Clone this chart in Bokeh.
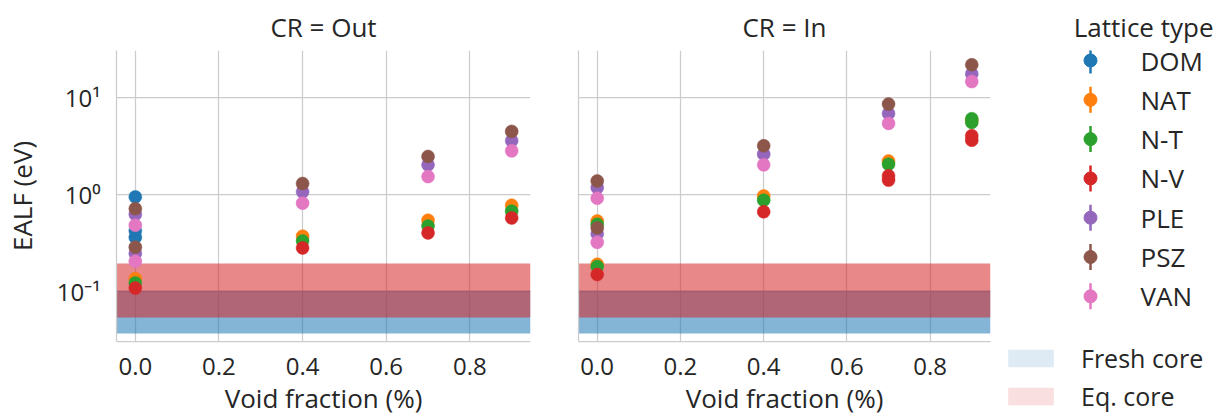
from bokeh.plotting import figure
from bokeh.layouts import row
from bokeh.models import (Range1d, FixedTicker, CustomJSTickFormatter, NumeralTickFormatter,
                          Legend, LegendItem)
from bokeh.core.properties import value
from bokeh.embed import file_html
from bokeh.resources import INLINE

FONT = "Open Sans"
TXT = "#262626"
GRID = "#cccccc"

lattices = ["DOM", "NAT", "N-T", "N-V", "PLE", "PSZ", "VAN"]
colors = ["#1f77b4", "#ff7f0e", "#2ca02c", "#d62728", "#9467bd", "#8c564b", "#e377c2"]

panel_titles = ["CR = Out", "CR = In"]
x_ticks = [0.0, 0.2, 0.4, 0.6, 0.8]
y_ticks = [0.1, 1.0, 10.0]

# CR = Out (long format)
out_lattice = ["DOM", "DOM", "DOM",
               "NAT", "NAT", "NAT", "NAT",
               "N-T", "N-T", "N-T", "N-T",
               "N-V", "N-V", "N-V", "N-V",
               "PLE", "PLE", "PLE", "PLE", "PLE",
               "PSZ", "PSZ", "PSZ", "PSZ", "PSZ",
               "VAN", "VAN", "VAN", "VAN", "VAN"]
out_void = [0.0, 0.0, 0.0,
            0.0, 0.4, 0.7, 0.9,
            0.0, 0.4, 0.7, 0.9,
            0.0, 0.4, 0.7, 0.9,
            0.0, 0.0, 0.4, 0.7, 0.9,
            0.0, 0.0, 0.4, 0.7, 0.9,
            0.0, 0.0, 0.4, 0.7, 0.9]
out_ealf = [0.94, 0.42, 0.36,
            0.135, 0.37, 0.54, 0.77,
            0.122, 0.33, 0.47, 0.67,
            0.108, 0.28, 0.40, 0.57,
            0.62, 0.245, 1.06, 2.01, 3.56,
            0.71, 0.285, 1.29, 2.45, 4.44,
            0.48, 0.204, 0.81, 1.52, 2.80]

# CR = In (long format)
in_lattice = ["NAT", "NAT", "NAT", "NAT", "NAT",
              "N-T", "N-T", "N-T", "N-T", "N-T", "N-T",
              "N-V", "N-V", "N-V", "N-V", "N-V", "N-V",
              "PLE", "PLE", "PLE", "PLE", "PLE",
              "PSZ", "PSZ", "PSZ", "PSZ", "PSZ",
              "VAN", "VAN", "VAN", "VAN", "VAN"]
in_void = [0.0, 0.0, 0.4, 0.7, 0.9,
           0.0, 0.0, 0.4, 0.7, 0.9, 0.9,
           0.0, 0.4, 0.7, 0.7, 0.9, 0.9,
           0.0, 0.0, 0.4, 0.7, 0.9,
           0.0, 0.0, 0.4, 0.7, 0.9,
           0.0, 0.0, 0.4, 0.7, 0.9]
in_ealf = [0.53, 0.19, 0.96, 2.2, 5.8,
           0.49, 0.18, 0.87, 2.04, 6.0, 5.5,
           0.149, 0.66, 1.55, 1.40, 4.0, 3.6,
           1.17, 0.39, 2.59, 6.8, 17.4,
           1.37, 0.45, 3.16, 8.5, 21.6,
           0.91, 0.32, 2.01, 5.37, 14.5]

band_labels = ["Fresh core", "Eq. core"]
band_low = [0.037, 0.054]
band_high = [0.103, 0.193]
band_colors = ["#1f77b4", "#d62728"]

x_min, x_max = -0.045, 0.945
y_min, y_max = 0.0304, 30.3

y_range = Range1d(y_min, y_max)

FRAME_H = 291
TOP_B = 42
BOT_B = 60


def make_panel(title, lat, xs, ys, left):
    p = figure(
        frame_width=414 if left else 412, frame_height=FRAME_H,
        x_range=Range1d(x_min, x_max), y_range=y_range,
        y_axis_type="log", output_backend="svg", toolbar_location=None,
        min_border_left=108 if left else 24, min_border_right=24 if left else 12,
        min_border_top=TOP_B, min_border_bottom=BOT_B,
        background_fill_color="white", border_fill_color="white",
    )
    p.outline_line_color = None
    p.title.text = title
    p.title.align = "center"
    p.title.text_font = FONT
    p.title.text_font_size = "26px"
    p.title.text_font_style = "normal"
    p.title.text_color = TXT
    p.title.standoff = 12

    for ax in (p.xaxis[0], p.yaxis[0]):
        ax.axis_line_color = GRID
        ax.axis_line_width = 1.25
        ax.major_tick_line_color = None
        ax.minor_tick_line_color = None
        ax.major_label_text_font = FONT
        ax.major_label_text_color = TXT
        ax.major_label_text_font_size = "24px"
        ax.axis_label_text_font = FONT
        ax.axis_label_text_font_size = "26px"
        ax.axis_label_text_font_style = "normal"
        ax.axis_label_text_color = TXT
    p.xaxis.ticker = FixedTicker(ticks=x_ticks)
    p.xaxis.formatter = NumeralTickFormatter(format="0.0")
    p.xaxis.axis_label = "Void fraction (%)"
    p.xaxis.major_label_standoff = 10
    p.xaxis.axis_label_standoff = 2
    p.yaxis.ticker = FixedTicker(ticks=y_ticks)
    if left:
        p.yaxis.formatter = CustomJSTickFormatter(code="""
            const sup = {'0':'\u2070','1':'\u00b9','2':'\u00b2','3':'\u00b3','-':'\u207b'};
            const e = String(Math.round(Math.log10(tick)));
            return '10' + e.split('').map(c => sup[c]).join('');
        """)
        p.yaxis.axis_label = "EALF (eV)"
        p.yaxis.major_label_standoff = 10
        p.yaxis.axis_label_standoff = 14
    else:
        p.yaxis.formatter = CustomJSTickFormatter(code="return '';")
        p.yaxis.major_label_standoff = 0

    p.xgrid.grid_line_color = GRID
    p.ygrid.grid_line_color = GRID
    p.xgrid.grid_line_width = 1.25
    p.ygrid.grid_line_width = 1.25

    for lo, hi, c in zip(band_low, band_high, band_colors):
        p.hstrip(y0=[lo], y1=[hi], fill_color=c, fill_alpha=0.55, line_color=None)

    for name, c in zip(lattices, colors):
        xx = [x for l, x in zip(lat, xs) if l == name]
        yy = [y for l, y in zip(lat, ys) if l == name]
        if xx:
            p.scatter(xx, yy, size=13, fill_color=c, line_color=c, line_width=0.5)
    return p


p1 = make_panel(panel_titles[0], out_lattice, out_void, out_ealf, True)
p2 = make_panel(panel_titles[1], in_lattice, in_void, in_ealf, False)

# Legend figure: frame aligned with the panels' frames; coordinates are page pixels
LX0, LW = 1002, 213
LY0, LY1 = 50, 50 + FRAME_H
lg = figure(frame_width=LW, frame_height=FRAME_H,
            x_range=Range1d(LX0, LX0 + LW), y_range=Range1d(LY1, LY0),
            x_axis_location=None, y_axis_location=None,
            output_backend="svg", toolbar_location=None,
            min_border_left=0, min_border_right=0, min_border_top=TOP_B, min_border_bottom=BOT_B)
lg.grid.visible = False
lg.outline_line_color = None
lg.title.text = "Lattice type"
lg.title.align = "right"
lg.title.text_font = FONT
lg.title.text_font_size = "26px"
lg.title.text_font_style = "normal"
lg.title.text_color = TXT
lg.title.standoff = 12
lg.title.offset = 2

n = len(lattices)
ey = [60 + 39.3 * i for i in range(n)]
lg.segment(x0=[1090] * n, y0=[y - 13 for y in ey], x1=[1090] * n, y1=[y + 13 for y in ey],
           line_color=colors, line_width=2.5)
lg.scatter(x=[1090] * n, y=ey, size=13, fill_color=colors, line_color=colors)
lg.text(x=[1140] * n, y=ey, text=lattices, text_baseline="middle",
        text_font=value(FONT), text_font_size=value("26px"), text_color=TXT)

# band legend: the band strips themselves (out of this frame's pixel range) feed the legend swatches
band_items = []
for lab, lo, hi, c in zip(band_labels, band_low, band_high, band_colors):
    r = lg.hstrip(y0=[lo], y1=[hi], fill_color=c, fill_alpha=0.15, line_color=None)
    band_items.append(LegendItem(label=lab, renderers=[r]))
band_legend = Legend(items=band_items, location="top_left", orientation="vertical",
                     margin=0, padding=0, spacing=4, glyph_width=57, glyph_height=22,
                     label_standoff=22, label_text_font=FONT, label_text_font_size="25px",
                     label_text_color=TXT, border_line_color=None, background_fill_alpha=0)
lg.add_layout(band_legend, "below")

layout = row(p1, p2, lg, spacing=0)
open("out.html", "w").write(file_html(layout, INLINE))
